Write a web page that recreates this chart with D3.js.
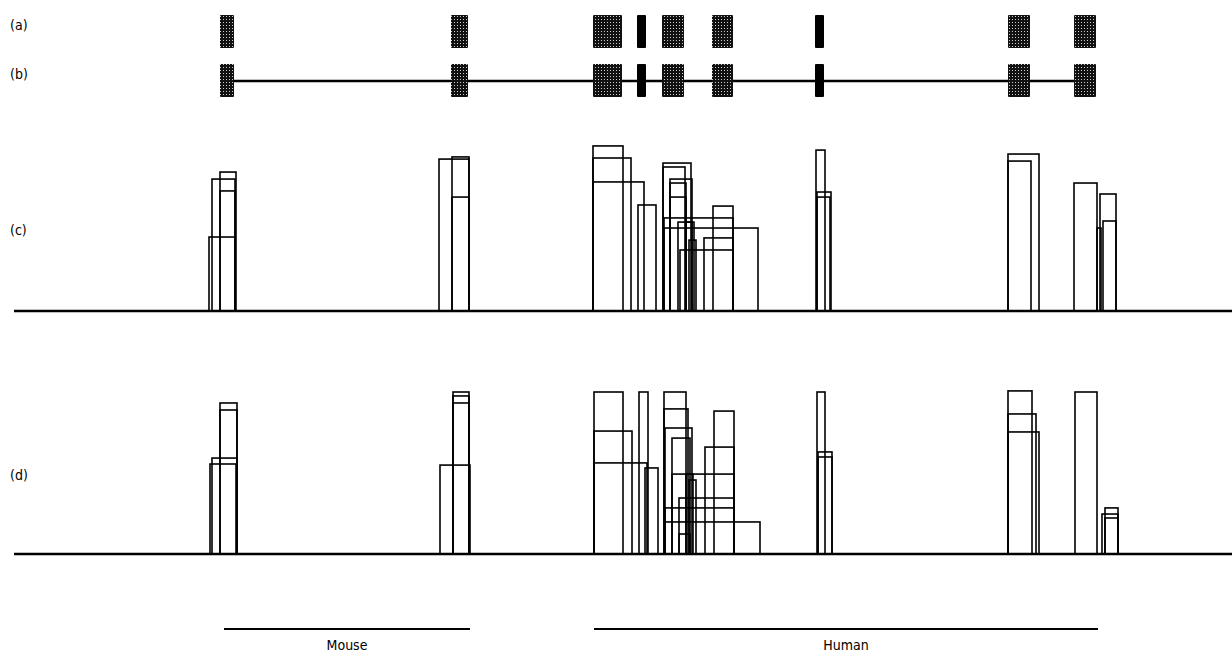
<html>
<head>
<meta charset="utf-8">
<style>
  body { margin: 0; background: #fff; }
  svg { display: block; }
  .lbl { font-family: "DejaVu Sans Condensed", "Liberation Sans Narrow", sans-serif; font-size: 14px; fill: #000; }
  .box { fill: none; stroke: #000; stroke-width: 1.6px; }
  .base { stroke: #000; stroke-width: 2.4px; }
</style>
</head>
<body>
<script src="https://cdnjs.cloudflare.com/ajax/libs/d3/7.8.5/d3.min.js"></script>
<script>
// exon positions (same units as the match segments), kind: h = hatched, s = solid
var exonStart = [206, 437, 579, 623, 648, 698, 801, 994, 1060];
var exonEnd   = [220, 454, 608, 632, 670, 719, 810, 1016, 1082];
var exonKind  = ["h", "h", "h", "s", "h", "h", "s", "h", "h"];

// panel (c) match segments: start, end, score
var cStart = [195, 198, 206, 206, 425, 438, 438,
              579, 579, 579, 624, 649, 649, 656, 656, 656, 650, 699, 650, 664, 690, 666, 672, 675,
              802, 803, 803, 994, 994, 1060, 1086, 1089, 1083];
var cEnd   = [221, 221, 222, 221, 455, 455, 455,
              609, 617, 630, 642, 677, 671, 678, 672, 672, 719, 719, 744, 678, 719, 719, 680, 682,
              811, 817, 816, 1025, 1017, 1083, 1102, 1102, 1087];
var cScore = [41.1, 73.3, 77.2, 66.7, 84.4, 85.6, 63.3,
              91.7, 85, 71.7, 58.9, 82.2, 80, 73.3, 71.1, 63.3, 51.7, 58.3, 46.1, 49.4, 40.6, 33.9, 49.4, 39.4,
              89.4, 66.1, 63.3, 87.2, 83.3, 71.1, 65, 50, 46.1];

// panel (d) match segments
var dStart = [196, 198, 206, 206, 426, 439, 439, 439,
              580, 580, 580, 631, 625, 650, 650, 651, 658, 700, 691, 658, 665, 651, 651, 665, 672, 675,
              803, 804, 804, 994, 994, 994, 1061, 1091, 1088, 1091];
var dEnd   = [222, 223, 223, 223, 456, 455, 455, 455,
              609, 618, 633, 644, 634, 672, 674, 678, 676, 720, 720, 720, 720, 720, 746, 676, 679, 682,
              811, 818, 818, 1018, 1022, 1025, 1083, 1104, 1104, 1104];
var dScore = [50, 53.3, 83.9, 80, 49.4, 90, 87.8, 83.9,
              90, 68.3, 50.6, 47.8, 90, 90, 80.6, 70, 64.4, 79.4, 59.4, 44.4, 31.1, 25.6, 17.8, 11.1, 44.4, 41.1,
              90, 56.7, 53.9, 90.6, 77.8, 67.8, 90, 25.6, 22.2, 20];

var panelLabels = ["(a)", "(b)", "(c)", "(d)"];
var speciesName  = ["Mouse", "Human"];
var speciesStart = [210, 580];
var speciesEnd   = [456, 1084];

var W = 1232, H = 655;
var x = d3.scaleLinear().domain([0, 1218]).range([14, 1232]);
var yC = d3.scaleLinear().domain([0, 100]).range([311, 131]);
var yD = d3.scaleLinear().domain([0, 100]).range([554, 374]);

var svg = d3.select("body").append("svg").attr("width", W).attr("height", H);

// halftone texture for the exon boxes
var pat = svg.append("defs").append("pattern")
    .attr("id", "dots").attr("patternUnits", "userSpaceOnUse")
    .attr("width", 3).attr("height", 3);
pat.append("rect").attr("width", 3).attr("height", 3).attr("fill", "#111");
pat.append("rect").attr("x", 1).attr("y", 1).attr("width", 1).attr("height", 1).attr("fill", "#ccc");

var exons = exonStart.map(function(s, i) { return {s: s, e: exonEnd[i], k: exonKind[i]}; });

// row labels
svg.selectAll("text.row").data(panelLabels).enter().append("text")
    .attr("class", "lbl row")
    .attr("x", 10)
    .attr("y", function(d, i) { return [30, 79, 235, 480][i]; })
    .text(function(d) { return d; });

// (b) intron line
svg.append("line").attr("class", "base")
    .attr("x1", x(exonStart[0])).attr("x2", x(exonStart[exonStart.length - 1]))
    .attr("y1", 81).attr("y2", 81);

// (a) and (b) exon boxes
[[15, 48], [64, 97]].forEach(function(r) {
  svg.append("g").selectAll("rect").data(exons).enter().append("rect")
      .attr("x", function(d) { return x(d.s); })
      .attr("width", function(d) { return x(d.e) - x(d.s); })
      .attr("y", r[0]).attr("height", r[1] - r[0])
      .attr("rx", 1)
      .attr("fill", function(d) { return d.k === "s" ? "#000" : "url(#dots)"; });
});

function panel(starts, ends, scores, y) {
  var segs = starts.map(function(s, i) { return {s: s, e: ends[i], v: scores[i]}; });
  var g = svg.append("g");
  g.append("line").attr("class", "base")
      .attr("x1", x(0)).attr("x2", x(1218))
      .attr("y1", y(0)).attr("y2", y(0));
  g.selectAll("rect").data(segs).enter().append("rect")
      .attr("class", "box")
      .attr("x", function(d) { return x(d.s); })
      .attr("width", function(d) { return x(d.e) - x(d.s); })
      .attr("y", function(d) { return y(d.v); })
      .attr("height", function(d) { return y(0) - y(d.v); });
}
panel(cStart, cEnd, cScore, yC);
panel(dStart, dEnd, dScore, yD);

// species extents
speciesName.forEach(function(n, i) {
  svg.append("line").attr("class", "base").style("stroke-width", "1.8px")
      .attr("x1", x(speciesStart[i])).attr("x2", x(speciesEnd[i]))
      .attr("y1", 629).attr("y2", 629);
  svg.append("text").attr("class", "lbl")
      .attr("x", (x(speciesStart[i]) + x(speciesEnd[i])) / 2)
      .attr("y", 650).attr("text-anchor", "middle")
      .text(n);
});
</script>
</body>
</html>
